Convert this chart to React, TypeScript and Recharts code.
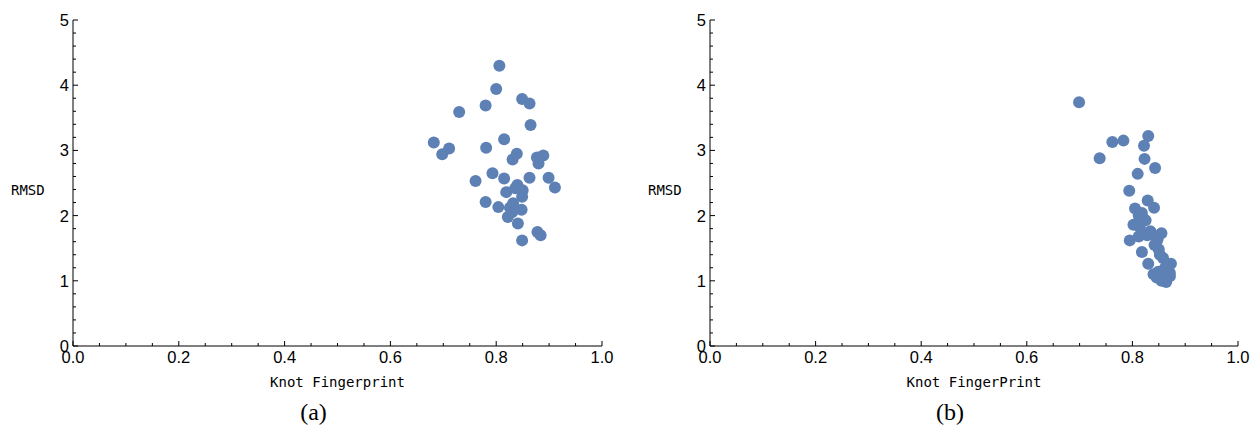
import React from 'react';
import { ScatterChart, Scatter, XAxis, YAxis } from 'recharts';

// panel (a): knot fingerprint vs RMSD
const fingerprintA = [
  0.806, 0.8, 0.849, 0.863, 0.78, 0.73, 0.865, 0.815, 0.682, 0.711, 0.698, 0.781, 0.839,
  0.831, 0.889, 0.877, 0.88, 0.793, 0.761, 0.815, 0.863, 0.899, 0.911, 0.84, 0.85, 0.819,
  0.849, 0.78, 0.832, 0.804, 0.826, 0.848, 0.822, 0.841, 0.878, 0.884, 0.849, 0.83, 0.836,
];
const rmsdA = [
  4.3, 3.94, 3.79, 3.72, 3.69, 3.59, 3.39, 3.17, 3.12, 3.03, 2.94, 3.04, 2.95,
  2.86, 2.92, 2.89, 2.8, 2.65, 2.53, 2.57, 2.58, 2.58, 2.43, 2.47, 2.39, 2.36,
  2.29, 2.21, 2.19, 2.13, 2.12, 2.09, 1.98, 1.88, 1.75, 1.7, 1.62, 2.05, 2.42,
];

// panel (b)
const fingerprintB = [
  0.699, 0.762, 0.783, 0.83, 0.822, 0.738, 0.823, 0.843, 0.81, 0.794, 0.829, 0.805, 0.841,
  0.818, 0.825, 0.802, 0.814, 0.855, 0.836, 0.795, 0.846, 0.818, 0.852, 0.873, 0.83, 0.849,
  0.871, 0.846, 0.864, 0.871, 0.812, 0.828, 0.812, 0.842, 0.85, 0.858, 0.862, 0.84, 0.858,
  0.868, 0.848, 0.82, 0.834, 0.855,
];
const rmsdB = [
  3.74, 3.13, 3.15, 3.22, 3.07, 2.88, 2.87, 2.73, 2.64, 2.38, 2.23, 2.11, 2.12,
  2.04, 1.93, 1.86, 1.82, 1.73, 1.73, 1.62, 1.6, 1.44, 1.4, 1.26, 1.26, 1.14,
  1.12, 1.05, 0.98, 1.07, 2.0, 1.7, 1.68, 1.55, 1.48, 1.35, 1.2, 1.1, 1.08,
  1.16, 1.65, 1.96, 1.76, 1.0,
];

const xTicks = [
  0, 0.05, 0.1, 0.15, 0.2, 0.25, 0.3, 0.35, 0.4, 0.45, 0.5, 0.55, 0.6, 0.65, 0.7, 0.75, 0.8,
  0.85, 0.9, 0.95, 1,
];
const xMajor = [0, 0.2, 0.4, 0.6, 0.8, 1];
const yTicks = [
  0, 0.2, 0.4, 0.6, 0.8, 1, 1.2, 1.4, 1.6, 1.8, 2, 2.2, 2.4, 2.6, 2.8, 3, 3.2, 3.4, 3.6, 3.8,
  4, 4.2, 4.4, 4.6, 4.8, 5,
];
const yMajor = [0, 1, 2, 3, 4, 5];

const DOT = '#5E81B5';
const TICK_FONT = '"Liberation Sans", Arial, sans-serif';
const MONO = '"DejaVu Sans Mono", monospace';
const GAP = 5;

const isMajor = (list: number[], v: number) => list.some((m) => Math.abs(m - v) < 1e-6);

const XTick = (props: any) => {
  const { x, y, payload } = props;
  const major = isMajor(xMajor, payload.value);
  const axisY = y - GAP;
  return (
    <g>
      <line x1={x} x2={x} y1={axisY} y2={axisY - (major ? 5 : 3)} stroke="#000" />
      {major && (
        <text x={x} y={axisY + 4} dy="0.78em" textAnchor="middle" fontFamily={TICK_FONT} fontSize={16.5} fill="#000">
          {payload.value.toFixed(1)}
        </text>
      )}
    </g>
  );
};

const YTick = (props: any) => {
  const { x, y, payload } = props;
  const major = isMajor(yMajor, payload.value);
  const axisX = x + GAP;
  return (
    <g>
      <line x1={axisX} x2={axisX + (major ? 5 : 3)} y1={y} y2={y} stroke="#000" />
      {major && (
        <text x={axisX - 4} y={y} dy="0.36em" textAnchor="end" fontFamily={TICK_FONT} fontSize={16.5} fill="#000">
          {payload.value}
        </text>
      )}
    </g>
  );
};

const Dot = (props: any) => <circle cx={props.cx} cy={props.cy} r={6} fill={DOT} />;

interface PanelProps {
  xs: number[];
  ys: number[];
  xLabel: string;
  caption: string;
  left: number;
  width: number;
}

const Panel: React.FC<PanelProps> = ({ xs, ys, xLabel, caption, left, width }) => {
  const data = xs.map((v, i) => ({ fp: v, rmsd: ys[i] }));
  return (
    <div style={{ position: 'absolute', left, top: 0, width, height: 432 }}>
      <ScatterChart width={width} height={432} margin={{ top: 20, right: 24, bottom: 56, left: 0 }}>
        <XAxis
          dataKey="fp"
          type="number"
          domain={[0, 1]}
          ticks={xTicks}
          interval={0}
          tickSize={0}
          tickMargin={GAP}
          tick={<XTick />}
          height={30}
          axisLine={{ stroke: '#000' }}
          label={(p: any) => (
            <text
              x={p.viewBox.x + p.viewBox.width / 2}
              y={p.viewBox.y + 36}
              dy="0.36em"
              textAnchor="middle"
              fontFamily={MONO}
              fontSize={14}
              fill="#000"
            >
              {xLabel}
            </text>
          )}
        />
        <YAxis
          dataKey="rmsd"
          type="number"
          domain={[0, 5]}
          ticks={yTicks}
          interval={0}
          tickSize={0}
          tickMargin={GAP}
          tick={<YTick />}
          width={73}
          axisLine={{ stroke: '#000' }}
          label={(p: any) => (
            <text
              x={p.viewBox.x + 11}
              y={p.viewBox.y + p.viewBox.height / 2 + 7}
              dy="0.36em"
              textAnchor="start"
              fontFamily={MONO}
              fontSize={14}
              fill="#000"
            >
              RMSD
            </text>
          )}
        />
        <Scatter data={data} shape={<Dot />} isAnimationActive={false} />
      </ScatterChart>
      <div
        style={{
          position: 'absolute',
          left: 73,
          width: width - 73 - 24,
          top: 398,
          textAlign: 'center',
          fontFamily: '"Liberation Serif", "DejaVu Serif", serif',
          fontSize: 24,
          lineHeight: '28px',
          paddingRight: 48,
          boxSizing: 'border-box',
        }}
      >
        {caption}
      </div>
    </div>
  );
};

export default function App() {
  return (
    <div style={{ position: 'absolute', left: 0, top: 0, width: 1252, height: 432, background: '#fff' }}>
      <Panel xs={fingerprintA} ys={rmsdA} xLabel="Knot Fingerprint" caption="(a)" left={0} width={626} />
      <Panel xs={fingerprintB} ys={rmsdB} xLabel="Knot FingerPrint" caption="(b)" left={637} width={625} />
    </div>
  );
}
